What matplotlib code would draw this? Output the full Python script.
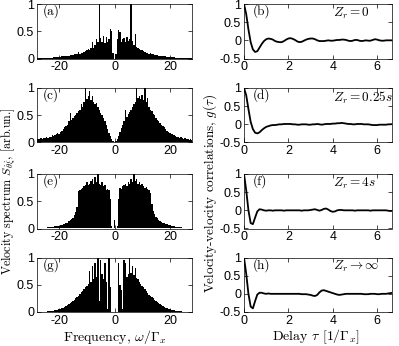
import numpy as np
import matplotlib
matplotlib.use("Agg")
import matplotlib.pyplot as plt

plt.rcParams['font.family'] = ['Liberation Sans', 'DejaVu Sans']
plt.rcParams['mathtext.fontset'] = 'cm'
plt.rcParams['axes.unicode_minus'] = False

# frequency grid of the spectra (omega / Gamma_x), step 0.5
freq = np.arange(-28, 28.01, 0.5)

spec_a = [0.004, 0.005, 0.005, 0.006, 0.007, 0.008, 0.009, 0.01,
          0.012, 0.013, 0.015, 0.017, 0.02, 0.022, 0.025, 0.028,
          0.03, 0.035, 0.04, 0.038, 0.045, 0.05, 0.048, 0.055,
          0.06, 0.065, 0.07, 0.075, 0.08, 0.09, 0.12, 0.09,
          0.1, 0.11, 0.12, 0.14, 0.15, 0.17, 0.16, 0.2,
          0.3, 0.2, 0.24, 0.35, 0.3, 1.0, 0.38, 0.3,
          0.42, 0.28, 0.4, 0.3, 0.35, 0.55, 0.5, 0.1,
          0.0,
          0.08, 0.35, 0.52, 0.48, 0.3, 0.36, 0.38, 0.3,
          0.4, 0.32, 0.36, 1.0, 0.32, 0.25, 0.45, 0.22,
          0.2, 0.18, 0.16, 0.15, 0.13, 0.12, 0.11, 0.1,
          0.09, 0.1, 0.08, 0.075, 0.07, 0.065, 0.06, 0.055,
          0.05, 0.05, 0.045, 0.04, 0.038, 0.035, 0.03, 0.028,
          0.025, 0.022, 0.02, 0.018, 0.016, 0.014, 0.012, 0.011,
          0.01, 0.009, 0.008, 0.007, 0.006, 0.005, 0.005, 0.004]

spec_c = [0.06, 0.07, 0.06, 0.08, 0.07, 0.09, 0.08, 0.1,
          0.09, 0.11, 0.1, 0.13, 0.12, 0.14, 0.15, 0.17,
          0.16, 0.2, 0.22, 0.25, 0.28, 0.3, 0.33, 0.4,
          0.55, 0.42, 0.45, 0.48, 0.5, 0.55, 0.58, 0.6,
          0.7, 0.65, 0.75, 1.0, 0.8, 0.85, 0.95, 0.78,
          0.85, 0.75, 0.7, 0.72, 0.65, 0.6, 0.55, 0.5,
          0.45, 0.4, 0.32, 0.25, 0.18, 0.12, 0.06, 0.02,
          0.0,
          0.02, 0.06, 0.12, 0.2, 0.27, 0.33, 0.4, 0.6,
          0.47, 0.52, 0.56, 0.6, 0.65, 0.7, 0.75, 1.0,
          0.82, 0.85, 0.8, 0.88, 0.78, 1.0, 0.75, 0.82,
          0.65, 0.6, 0.58, 0.52, 0.5, 0.45, 0.42, 0.4,
          0.36, 0.33, 0.3, 0.28, 0.25, 0.22, 0.2, 0.18,
          0.16, 0.15, 0.13, 0.12, 0.11, 0.1, 0.09, 0.1,
          0.08, 0.07, 0.08, 0.06, 0.07, 0.05, 0.06, 0.05]

spec_e = [0.005, 0.006, 0.007, 0.008, 0.01, 0.012, 0.014, 0.016,
          0.02, 0.022, 0.025, 0.03, 0.035, 0.04, 0.045, 0.05,
          0.055, 0.06, 0.07, 0.08, 0.09, 0.1, 0.11, 0.13,
          0.15, 0.17, 0.2, 0.24, 0.3, 0.4, 0.68, 0.7,
          0.72, 0.75, 0.78, 0.8, 0.85, 0.8, 0.82, 0.88,
          0.9, 0.82, 0.95, 0.85, 1.0, 0.82, 0.8, 0.85,
          0.78, 0.8, 0.7, 0.72, 0.7, 0.55, 0.05, 0.0,
          0.15,
          0.0, 0.05, 0.55, 0.75, 0.72, 0.78, 0.8, 0.82,
          0.78, 0.85, 0.82, 0.9, 0.85, 1.0, 0.88, 0.9,
          0.82, 0.85, 0.8, 0.82, 0.78, 0.75, 0.76, 0.72,
          0.7, 0.66, 0.45, 0.32, 0.26, 0.22, 0.19, 0.16,
          0.14, 0.12, 0.11, 0.1, 0.09, 0.08, 0.07, 0.06,
          0.05, 0.045, 0.04, 0.035, 0.03, 0.025, 0.022, 0.02,
          0.016, 0.014, 0.012, 0.01, 0.008, 0.007, 0.006, 0.005]

spec_g = [0.002, 0.003, 0.003, 0.004, 0.005, 0.006, 0.007, 0.008,
          0.01, 0.012, 0.015, 0.02, 0.025, 0.03, 0.035, 0.04,
          0.05, 0.06, 0.07, 0.08, 0.1, 0.11, 0.13, 0.14,
          0.16, 0.18, 0.2, 0.22, 0.25, 0.28, 0.3, 0.33,
          0.36, 0.38, 0.42, 0.45, 0.48, 0.52, 0.75, 0.55,
          0.85, 0.6, 0.9, 0.65, 1.0, 0.2, 0.95, 0.7,
          0.6, 0.9, 0.55, 0.05, 1.0, 0.45, 0.0, 0.0,
          0.0,
          0.0, 0.0, 0.9, 0.5, 0.4, 0.05, 0.95, 0.9,
          0.65, 0.7, 1.0, 0.72, 0.85, 0.68, 0.8, 0.62,
          0.6, 0.55, 0.52, 0.48, 0.45, 0.42, 0.38, 0.35,
          0.32, 0.3, 0.27, 0.25, 0.22, 0.2, 0.18, 0.16,
          0.14, 0.13, 0.11, 0.1, 0.08, 0.07, 0.06, 0.05,
          0.04, 0.035, 0.03, 0.025, 0.02, 0.015, 0.012, 0.01,
          0.008, 0.007, 0.006, 0.005, 0.004, 0.003, 0.003, 0.002]

# delay grid of the correlations (tau in 1/Gamma_x), step 0.1
tau = np.round(np.arange(0, 6.71, 0.1), 1)

corr_b = [1.0, 0.72, 0.3, -0.05, -0.25, -0.32, -0.3, -0.2, -0.1, -0.02,
          0.03, 0.05, 0.04, 0.02, -0.02, -0.04, -0.05, -0.05, -0.02, 0.02,
          0.05, 0.06, 0.04, 0.01, -0.03, -0.05, -0.04, -0.01, 0.02, 0.04,
          0.05, 0.05, 0.03, 0.0, -0.02, -0.02, -0.02, -0.01, 0.0, -0.01,
          -0.01, 0.0, 0.01, 0.01, 0.02, 0.02, 0.01, -0.01, -0.02, -0.01,
          0.01, 0.01, -0.01, -0.02, -0.01, 0.0, -0.01, -0.01, 0.01, 0.03,
          0.02, 0.0, -0.01, -0.01, 0.0, 0.0, 0.0, 0.0]

corr_d = [1.0, 0.8, 0.42, 0.07, -0.13, -0.23, -0.25, -0.22, -0.16, -0.11,
          -0.07, -0.05, -0.03, -0.02, -0.02, -0.01, 0.0, 0.0, 0.01, 0.01,
          0.01, 0.01, 0.0, 0.0, -0.01, -0.01, 0.0, 0.0, 0.0, -0.01,
          -0.01, 0.0, 0.0, 0.01, 0.0, -0.01, 0.0, 0.01, 0.01, 0.01,
          0.02, 0.02, 0.03, 0.03, 0.04, 0.03, 0.02, 0.01, 0.01, 0.0,
          0.0, 0.01, 0.01, 0.01, 0.0, 0.0, 0.0, -0.01, -0.02, -0.02,
          -0.02, -0.01, -0.01, -0.01, -0.01, 0.0, 0.0, 0.01]

corr_f = [1.0, 0.55, 0.0, -0.35, -0.38, -0.2, -0.03, 0.03, 0.02, 0.0,
          -0.01, 0.0, 0.0, -0.01, 0.0, 0.0, 0.0, 0.0, -0.01, 0.0,
          0.0, 0.0, 0.0, 0.0, 0.0, 0.0, -0.01, 0.0, 0.0, 0.0,
          0.01, 0.02, 0.03, 0.01, -0.01, 0.01, 0.04, 0.05, 0.02, -0.02,
          -0.04, -0.03, 0.0, 0.01, 0.01, 0.0, 0.0, 0.0, 0.0, 0.0,
          -0.01, 0.0, 0.0, 0.0, 0.0, 0.0, 0.0, -0.01, 0.0, 0.0,
          0.0, 0.0, 0.0, 0.0, 0.0, -0.01, -0.02, -0.01]

corr_h = [1.0, 0.55, 0.0, -0.35, -0.4, -0.2, -0.02, 0.03, 0.03, 0.01,
          0.0, 0.01, 0.0, 0.0, 0.0, 0.0, 0.0, 0.0, 0.0, 0.0,
          0.0, 0.0, 0.0, 0.0, 0.0, 0.0, -0.01, -0.01, -0.01, -0.02,
          -0.03, -0.05, -0.06, -0.03, 0.04, 0.09, 0.1, 0.08, 0.06, 0.04,
          0.02, 0.0, -0.02, -0.03, -0.02, -0.01, 0.0, 0.0, 0.0, 0.0,
          0.0, 0.0, 0.0, 0.0, -0.01, -0.01, -0.01, 0.0, 0.0, 0.0,
          -0.01, -0.01, 0.0, 0.0, 0.0, 0.01, 0.02, 0.03]

spectra = [spec_a, spec_c, spec_e, spec_g]
corrs = [corr_b, corr_d, corr_f, corr_h]
left_tags = ["(a)", "(c)", "(e)", "(g)"]
right_tags = ["(b)", "(d)", "(f)", "(h)"]
zr_labels = [r"$Z_r = 0$", r"$Z_r = 0.25s$", r"$Z_r = 4s$", r"$Z_r \rightarrow \infty$"]

W, H = 399, 346
fig = plt.figure(figsize=(W / 100, H / 100), dpi=100)

row_bottom = [58.5, 142.5, 228.5, 312]   # pixel rows (from top)
row_h = 54.5
lx0, lx1 = 37, 192
rx0, rx1 = 244, 392

def style(ax):
	ax.tick_params(direction="in", top=True, right=True, length=3, width=0.5,
	               labelsize=9, pad=2)
	for sp in ax.spines.values():
		sp.set_linewidth(0.5)

for i in range(4):
	b = 1 - row_bottom[i] / H
	h = row_h / H
	axl = fig.add_axes([lx0 / W, b, (lx1 - lx0) / W, h])
	axl.fill_between(freq, 0, spectra[i], step="mid", color="k", linewidth=0)
	axl.set_xlim(-28, 28)
	axl.set_ylim(0, 1)
	axl.set_xticks([-20, 0, 20])
	axl.set_yticks([0, 0.5, 1])
	axl.set_yticklabels(["0", "0.5", "1"])
	style(axl)
	axl.text(0.035, 0.99, left_tags[i], transform=axl.transAxes, va="top",
	         ha="left", fontsize=9.5, fontfamily="cmr10")

	axr = fig.add_axes([rx0 / W, b, (rx1 - rx0) / W, h])
	axr.plot(tau, corrs[i], color="k", linewidth=1.3)
	axr.set_xlim(0, 6.67)
	axr.set_ylim(-0.5, 1)
	axr.set_xticks([0, 2, 4, 6])
	axr.set_yticks([-0.5, 0, 0.5, 1])
	axr.set_yticklabels(["-0.5", "0", "0.5", "1"])
	style(axr)
	axr.text(0.06, 0.99, right_tags[i], transform=axr.transAxes, va="top",
	         ha="left", fontsize=9.5, fontfamily="cmr10")
	axr.text(0.6, 0.97, zr_labels[i], transform=axr.transAxes, va="top",
	         ha="left", fontsize=9.5)

fig.text(114.5 / W, 1 - 337 / H, r"Frequency, $\omega/\Gamma_x$", ha="center",
         va="center", fontsize=10, fontfamily="cmr10")
fig.text(316 / W, 1 - 337 / H, r"Delay $\tau$ [1/$\Gamma_x$]", ha="center",
         va="center", fontsize=10, fontfamily="cmr10")
fig.text(8.5 / W, 1 - 191 / H, r"Velocity spectrum $S_{\dot\theta\dot\xi}$, [arb.un.]",
         ha="center", va="center", rotation=90, fontsize=8.7, fontfamily="cmr10")
fig.text(210 / W, 1 - 194 / H, r"Velocity-velocity correlations, $g(\tau)$",
         ha="center", va="center", rotation=90, fontsize=9.5, fontfamily="cmr10")

fig.savefig("out.png", dpi=100)
